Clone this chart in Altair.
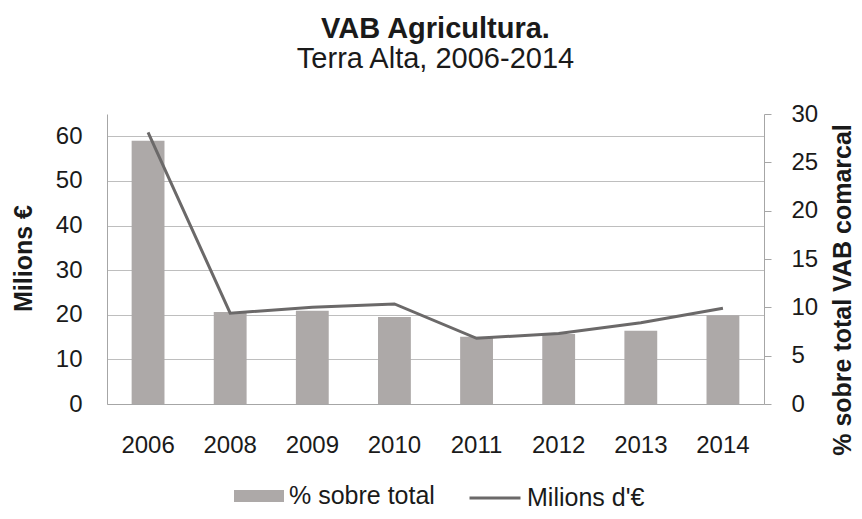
import altair as alt
import pandas as pd

years = ["2006", "2008", "2009", "2010", "2011", "2012", "2013", "2014"]
bar_values = [59.0, 20.6, 20.9, 19.5, 15.1, 15.7, 16.4, 19.9]
line_values = [28.1, 9.4, 10.0, 10.35, 6.8, 7.3, 8.4, 9.9]
bar_label = "% sobre total"
line_label = "Milions d'€"
left_ticks = [0, 10, 20, 30, 40, 50, 60]
right_ticks = [0, 5, 10, 15, 20, 25, 30]

BAR_COLOR = "#ADA9A8"
LINE_COLOR = "#6B6969"
AXIS_COLOR = "#A6A6A6"
GRID_COLOR = "#BEBEBE"
TEXT_COLOR = "#1a1a1a"
FONT = "Liberation Sans"

df = pd.DataFrame({
    "year": years,
    "bar": bar_values,
    "line": line_values,
    "bar_series": [bar_label] * len(years),
    "line_series": [line_label] * len(years),
})

x_enc = alt.X(
    "year:N",
    sort=years,
    scale=alt.Scale(paddingInner=0.6, paddingOuter=0.3),
    axis=alt.Axis(
        title=None, labelAngle=0, ticks=False, tickSize=0, labelPadding=29,
        labelFontSize=24, labelFont=FONT, labelColor=TEXT_COLOR,
        domainColor=AXIS_COLOR, domainWidth=1, grid=False,
    ),
)

bars = alt.Chart(df).mark_bar().encode(
    x=x_enc,
    y=alt.Y(
        "bar:Q",
        scale=alt.Scale(domain=[0, 65], nice=False),
        axis=alt.Axis(
            values=left_ticks, title="Milions €", grid=True, gridColor=GRID_COLOR,
            gridWidth=1, ticks=False, tickSize=0, labelPadding=25,
            labelFontSize=24, labelFont=FONT, labelColor=TEXT_COLOR,
            domainColor=AXIS_COLOR, domainWidth=1,
            titleAngle=270, titleX=-76, titleY=144, titleBaseline="alphabetic",
            titleAlign="center", titleFontSize=25, titleFont=FONT,
            titleFontWeight="bold", titleColor=TEXT_COLOR,
        ),
    ),
    fill=alt.Fill(
        "bar_series:N",
        scale=alt.Scale(domain=[bar_label], range=[BAR_COLOR]),
        legend=alt.Legend(
            title=None, orient="none", legendX=127, legendY=357,
            symbolType="M-1,-0.24L1,-0.24L1,0.24L-1,0.24Z", symbolSize=2500,
            symbolStrokeWidth=0, symbolOpacity=1,
            labelFontSize=25, labelFont=FONT, labelColor=TEXT_COLOR,
            labelOffset=5, padding=0,
        ),
    ),
)

line = alt.Chart(df).mark_line(strokeWidth=3).encode(
    x=x_enc,
    y=alt.Y(
        "line:Q",
        scale=alt.Scale(domain=[0, 30], nice=False),
        axis=alt.Axis(
            orient="right", values=right_ticks, title="% sobre total VAB comarcal",
            grid=False, ticks=True, tickSize=7, tickColor=AXIS_COLOR, tickWidth=1,
            labelPadding=20,
            labelFontSize=24, labelFont=FONT, labelColor=TEXT_COLOR,
            domainColor=AXIS_COLOR, domainWidth=1,
            titleAngle=270, titleX=86, titleY=175.5, titleBaseline="alphabetic",
            titleAlign="center", titleFontSize=25, titleFont=FONT,
            titleFontWeight="bold", titleColor=TEXT_COLOR,
        ),
    ),
    stroke=alt.Stroke(
        "line_series:N",
        scale=alt.Scale(domain=[line_label], range=[LINE_COLOR]),
        legend=alt.Legend(
            title=None, orient="none", legendX=361, legendY=357,
            symbolType="stroke", symbolSize=2601, symbolStrokeWidth=3,
            labelFontSize=25, labelFont=FONT, labelColor=TEXT_COLOR,
            labelOffset=5, padding=0,
        ),
    ),
)

chart = alt.layer(bars, line).resolve_scale(
    y="independent", fill="independent", stroke="independent"
).properties(
    width=657,
    height=290,
    autosize=alt.AutoSizeParams(type="none"),
    padding={"left": 99, "top": 106, "right": 90, "bottom": 107},
    title=alt.TitleParams(
        text="VAB Agricultura.",
        subtitle="Terra Alta, 2006-2014",
        fontSize=29, subtitleFontSize=29, font=FONT, subtitleFont=FONT,
        fontWeight="bold", subtitleFontWeight="normal",
        color=TEXT_COLOR, subtitleColor=TEXT_COLOR,
        anchor="middle", frame="group", offset=28, subtitlePadding=1,
    ),
).configure_view(stroke=None)

chart.save("out.html", embed_options={"renderer": "svg", "actions": False})
